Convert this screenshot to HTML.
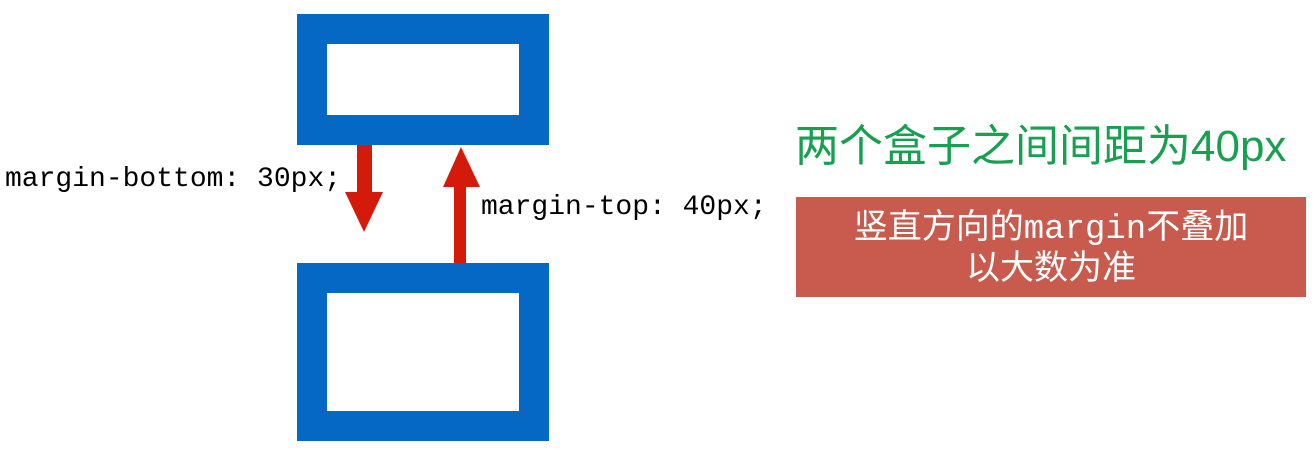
<!DOCTYPE html>
<html><head><meta charset="utf-8"><style>
body{margin:0;width:1314px;height:450px;background:#fff;position:relative;overflow:hidden}
.box{position:absolute;left:297px;width:192px;border:30px solid #0468c4;background:#fff}
.mono{position:absolute;font-family:"Liberation Mono",monospace;font-size:28px;color:#000;white-space:nowrap}
</style></head><body>
<div class="box" style="top:14px;height:71px"></div>
<div class="box" style="top:263px;height:118px"></div>
<svg width="1314" height="450" style="position:absolute;left:0;top:0">
<polygon points="357,145 372,145 372,192 383,192 364,232 345,192 357,192" fill="#d41a0b"/>
<polygon points="454,263 466,263 466,187 480,187 461,147 443,187 454,187" fill="#d41a0b"/>
</svg>
<div class="mono" style="left:5px;top:164px">margin-bottom: 30px;</div>
<div class="mono" style="left:481px;top:192px">margin-top: 40px;</div>
<div style="position:absolute;left:795px;top:110px;font-family:'Liberation Sans','Noto Sans CJK SC',sans-serif;font-size:44px;color:#16a050;white-space:nowrap">两个盒子之间间距为40px</div>
<div style="position:absolute;left:796px;top:197px;width:510px;height:100px;background:#c85a4e;color:#fff;font-family:'Liberation Mono','Noto Sans CJK SC',sans-serif;font-size:34px;line-height:41px;text-align:center;padding-top:13px;box-sizing:border-box">竖直方向的margin不叠加<br>以大数为准</div>
</body></html>
